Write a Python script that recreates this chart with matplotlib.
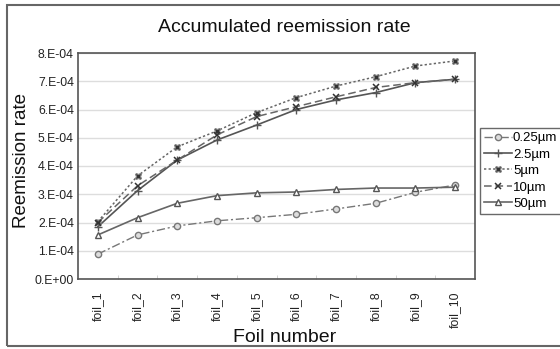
import matplotlib
matplotlib.use("Agg")
import matplotlib.pyplot as plt
from matplotlib.patches import Rectangle

plt.rcParams['font.family'] = ['Liberation Sans', 'DejaVu Sans']

foils = ["foil_1", "foil_2", "foil_3", "foil_4", "foil_5",
         "foil_6", "foil_7", "foil_8", "foil_9", "foil_10"]
s025 = [0.88e-4, 1.56e-4, 1.88e-4, 2.06e-4, 2.17e-4, 2.29e-4, 2.48e-4, 2.68e-4, 3.07e-4, 3.33e-4]
s25 = [1.85e-4, 3.13e-4, 4.21e-4, 4.92e-4, 5.45e-4, 6.00e-4, 6.34e-4, 6.60e-4, 6.95e-4, 7.07e-4]
s5 = [2.03e-4, 3.65e-4, 4.68e-4, 5.24e-4, 5.89e-4, 6.42e-4, 6.83e-4, 7.16e-4, 7.54e-4, 7.72e-4]
s10 = [2.00e-4, 3.30e-4, 4.21e-4, 5.10e-4, 5.75e-4, 6.10e-4, 6.45e-4, 6.78e-4, 6.95e-4, 7.07e-4]
s50 = [1.56e-4, 2.17e-4, 2.68e-4, 2.95e-4, 3.05e-4, 3.08e-4, 3.17e-4, 3.22e-4, 3.22e-4, 3.25e-4]
labels = ["0.25\u00b5m", "2.5\u00b5m", "5\u00b5m", "10\u00b5m", "50\u00b5m"]
yticks = [0, 1e-4, 2e-4, 3e-4, 4e-4, 5e-4, 6e-4, 7e-4, 8e-4]
ytick_labels = ["0.E+00", "1.E-04", "2.E-04", "3.E-04", "4.E-04", "5.E-04", "6.E-04", "7.E-04", "8.E-04"]

W, H = 560, 349
fig = plt.figure(figsize=(W / 100, H / 100), dpi=100)
L, R, T, B = 78, 475, 53, 279
ax = fig.add_axes([L / W, 1 - B / H, (R - L) / W, (B - T) / H])

# outer frame (right side runs off the image)
fig.patches.append(Rectangle((7 / W, 1 - 346 / H), 2.0, (346 - 5) / H,
                             transform=fig.transFigure, fill=False,
                             edgecolor="#666666", linewidth=1.5))

x = list(range(len(foils)))
lc = "#555555"
ax.plot(x, s025, linestyle=(0, (6, 2, 1.5, 2)), color="#777777", lw=1.0,
        marker="o", ms=4.5, mfc="#dddddd", mec="#777777", label=labels[0])
ax.plot(x, s25, linestyle="-", color=lc, lw=1.2,
        marker="+", ms=6, mec=lc, label=labels[1])
ax.plot(x, s5, linestyle=(0, (1.5, 1.5)), color="#666666", lw=1.1,
        marker="X", ms=5, mfc="#333333", mec="#888888", mew=0.8, label=labels[2])
ax.plot(x, s10, linestyle=(0, (5, 2.5)), color="#666666", lw=1.1,
        marker="x", ms=4.5, mec="#333333", mew=1.1, label=labels[3])
ax.plot(x, s50, linestyle="-", color="#666666", lw=1.2,
        marker="^", ms=5, mfc="white", mec="#555555", label=labels[4])

ax.set_xlim(-0.5, len(foils) - 0.5)
ax.set_ylim(0, 8e-4)
ax.set_yticks(yticks)
ax.set_yticklabels(ytick_labels, fontsize=8.8, color="#222222")
ax.set_xticks(x)
ax.set_xticklabels(foils, rotation=90, fontsize=8.8, color="#222222")
ax.tick_params(axis="x", length=0, pad=9)
ax.tick_params(axis="y", length=0, pad=3)
ax.set_xticks([i + 0.5 for i in range(len(foils) - 1)], minor=True)
ax.tick_params(axis="x", which="minor", direction="in", length=3, color="#cccccc")
ax.grid(axis="y", color="#dddddd", lw=1.0)
ax.set_axisbelow(True)
for sp in ax.spines.values():
    sp.set_color("#555555")
    sp.set_linewidth(1.2)

fig.text((L + R) / 2 / W + 8 / W, 1 - 27 / H, "Accumulated reemission rate",
         ha="center", va="center", fontsize=14, color="#111111")
fig.text(285 / W, 1 - 337 / H, "Foil number",
         ha="center", va="center", fontsize=14, color="#111111")
fig.text(22 / W, 1 - 160 / H, "Reemission rate",
         ha="center", va="center", rotation=90, fontsize=13.5, color="#111111")

leg = ax.legend(loc="upper left", bbox_to_anchor=(480 / W, 1 - 128 / H),
                bbox_transform=fig.transFigure, fontsize=9.5, frameon=True,
                fancybox=False, handlelength=2.1, handletextpad=0.1,
                borderpad=0.3, borderaxespad=0, labelspacing=0.32)
leg.get_frame().set_edgecolor("#444444")
leg.get_frame().set_linewidth(1.0)

fig.savefig("out.png", dpi=100)
